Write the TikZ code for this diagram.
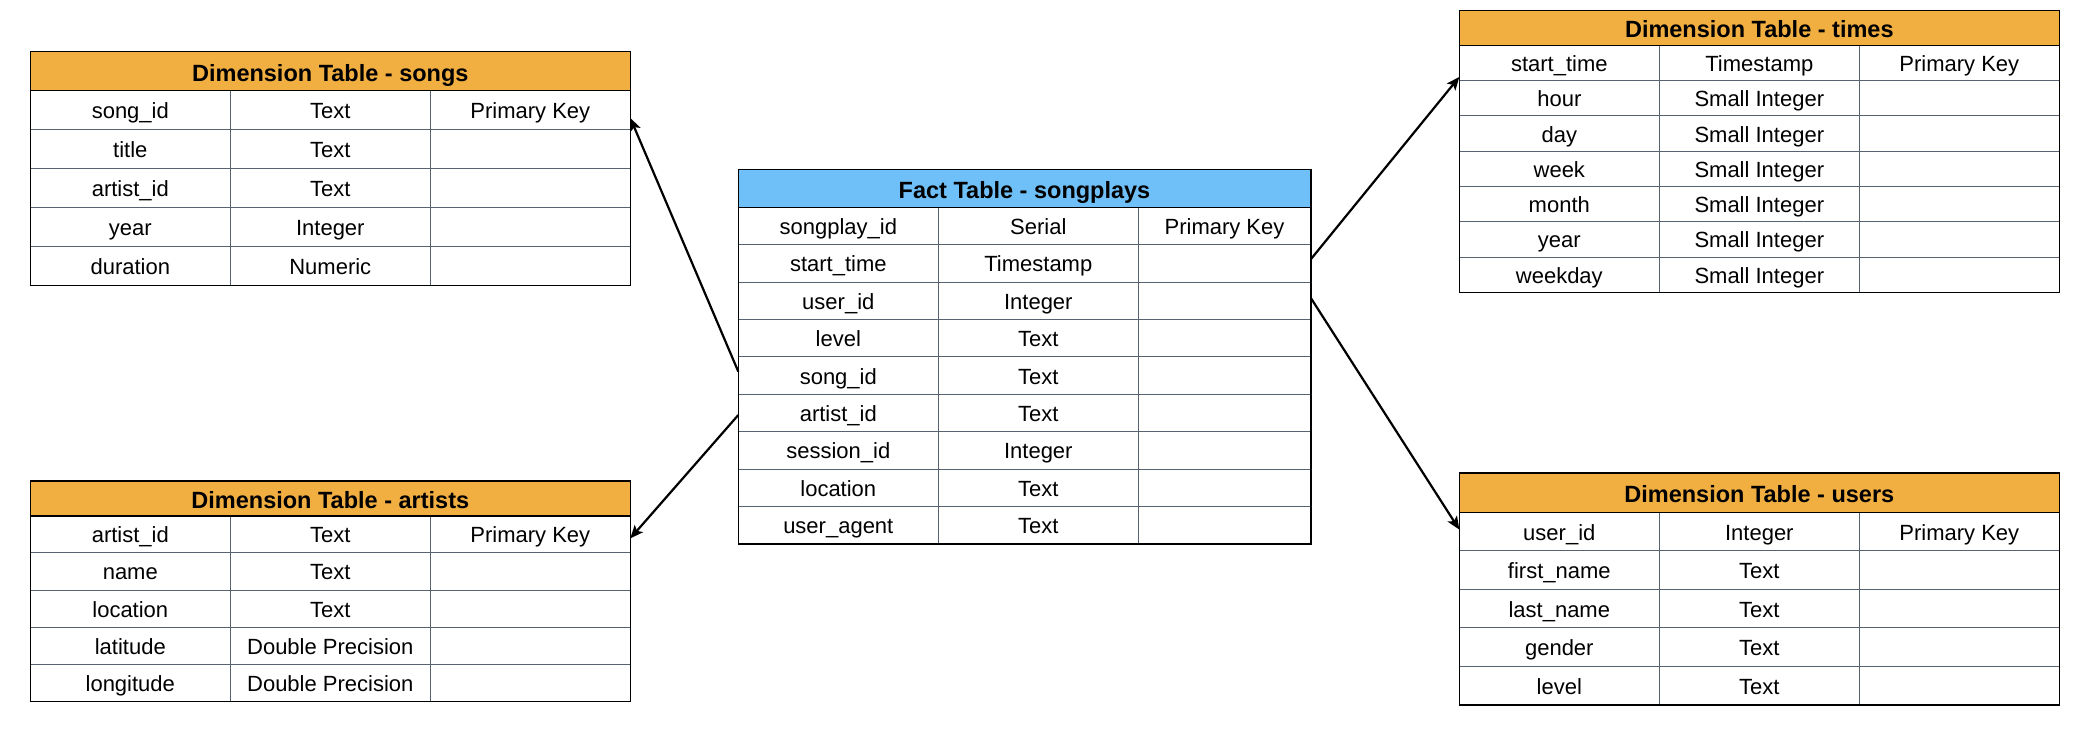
\documentclass[tikz,border=0pt]{standalone}
\usepackage{fontspec}
\setmainfont{Liberation Sans}
\usetikzlibrary{positioning,calc,arrows.meta}

\definecolor{dimorange}{RGB}{242,175,65}
\definecolor{factblue}{RGB}{111,192,248}
\definecolor{rowline}{RGB}{88,99,114}

\tikzset{
  tabhead/.style={inner sep=0pt, outer sep=0pt, text height=21pt, text depth=1pt,
    font=\fontsize{23.5}{28}\selectfont\bfseries},
  cell/.style={draw=rowline, line width=1pt, inner sep=0pt, outer sep=0pt,
    minimum width=200, text height=18.7pt, text depth=1.8pt, font=\fontsize{22}{26}\selectfont},
  frame/.style={draw=black, line width=1.6pt},
  link/.style={-{Stealth[length=13pt,width=11pt,inset=3pt]}, line width=2.2pt},
}

% name, x, y, fill, title, header height, row height, key column width, rows
\newcommand{\dbtable}[9]{%
  \node[tabhead, fill=#4, minimum width={400+#8}, minimum height=#6, anchor=north west] (#1-t) at (#2,#3) {#5};
  \foreach \f/\t [count=\i] in {#9} {
    \node[cell, minimum height=#7, anchor=north west] (#1-\i-a) at ($(#1-t.south west)+(0,{(\i-1)*#7})$) {\f};
    \node[cell, minimum height=#7, right=0pt of #1-\i-a] (#1-\i-b) {\t};
    \node[cell, minimum height=#7, minimum width=#8, right=0pt of #1-\i-b] (#1-\i-c) {\ifnum\i=1 Primary Key\fi};
    \xdef\lastrow{\i}
  }
  \draw[frame] (#1-t.north west) rectangle (#1-\lastrow-c.south east);
  \draw[frame] (#1-t.south west) -- (#1-t.south east);
}

\begin{document}
\begin{tikzpicture}[x=1pt, y=-1pt]
  \useasboundingbox (0,0) rectangle (2090,736);

  \dbtable{songs}{30.3}{51.5}{dimorange}{Dimension Table - songs}{39}{39}{200}
    {song\_id/Text, title/Text, artist\_id/Text, year/Integer, duration/Numeric}
  \dbtable{artists}{30.3}{481.2}{dimorange}{Dimension Table - artists}{34.6}{37.1}{200}
    {artist\_id/Text, name/Text, location/Text, latitude/Double Precision, longitude/Double Precision}
  \dbtable{fact}{738.3}{169.3}{factblue}{Fact Table - songplays}{38}{37.4}{172.4}
    {songplay\_id/Serial, start\_time/Timestamp, user\_id/Integer, level/Text, song\_id/Text,
     artist\_id/Text, session\_id/Integer, location/Text, user\_agent/Text}
  \dbtable{times}{1459.3}{10.5}{dimorange}{Dimension Table - times}{34.8}{35.3}{200}
    {start\_time/Timestamp, hour/Small Integer, day/Small Integer, week/Small Integer,
     month/Small Integer, year/Small Integer, weekday/Small Integer}
  \dbtable{users}{1459.3}{473}{dimorange}{Dimension Table - users}{39.3}{38.5}{200}
    {user\_id/Integer, first\_name/Text, last\_name/Text, gender/Text, level/Text}

  % fact -> dimensions
  \draw[link] ([yshift=4pt]fact-5-a.west) -- ([yshift=-8pt]songs-1-c.east);
  \draw[link] ([yshift=-2pt]fact-6-a.west) -- ([yshift=-4pt]artists-1-c.east);
  \draw[link] ([yshift=4pt]fact-2-c.east) -- ([yshift=-14pt]times-1-a.west);
  \draw[link] ([yshift=3pt]fact-3-c.east) -- ([yshift=2pt]users-1-a.west);
\end{tikzpicture}
\end{document}
